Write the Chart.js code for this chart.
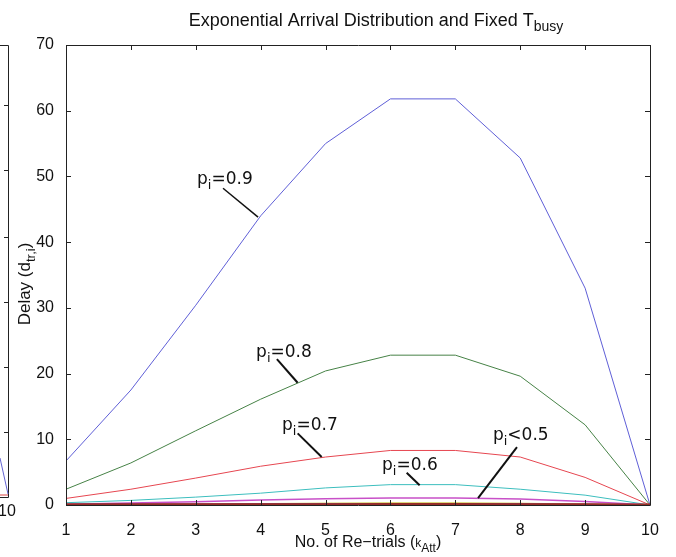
<!DOCTYPE html>
<html>
<head>
<meta charset="utf-8">
<script src="https://cdn.jsdelivr.net/npm/chart.js@4.4.1/dist/chart.umd.min.js"></script>
<style>
  html, body { margin: 0; padding: 0; background: #fff; }
  #wrap { width: 676px; height: 557px; position: relative; }
</style>
</head>
<body>
<div id="wrap"><canvas id="delayChart" width="676" height="557"></canvas></div>
<script>
const retrials = [1, 2, 3, 4, 5, 6, 7, 8, 9, 10];
const xTicks = [1, 2, 3, 4, 5, 6, 7, 8, 9, 10];
const yTicks = [0, 10, 20, 30, 40, 50, 60, 70];

const p09 = [6.7, 17.5, 30.4, 44.0, 55.0, 61.8, 61.8, 52.8, 33.0, 0];
const p08 = [2.4, 6.4, 11.3, 16.1, 20.4, 22.8, 22.8, 19.6, 12.2, 0];
const p07 = [1.0, 2.4, 4.1, 5.9, 7.3, 8.3, 8.3, 7.3, 4.2, 0];
const p06 = [0.35, 0.7, 1.2, 1.8, 2.6, 3.1, 3.1, 2.4, 1.5, 0];
const p05 = [0.1, 0.3, 0.5, 0.75, 0.95, 1.05, 1.05, 0.9, 0.55, 0];
const p04 = [0.03, 0.08, 0.15, 0.22, 0.28, 0.32, 0.32, 0.27, 0.15, 0];
const p03 = [0.05, 0.1, 0.12, 0.14, 0.15, 0.16, 0.16, 0.14, 0.08, 0];
const p02 = [0.02, 0.03, 0.04, 0.05, 0.05, 0.06, 0.06, 0.05, 0.03, 0];

// label text, position of text (data coords), leader line from -> to (data coords)
const labelNames = ["=0.9", "=0.8", "=0.7", "=0.6", "<0.5"];
const labelAt = [[3.02, 48.9], [3.93, 22.5], [4.33, 11.4], [5.87, 5.3], [7.58, 9.9]];
const leaderFrom = [[3.42, 48.2], [4.25, 22.2], [4.57, 10.9], [6.25, 4.9], [7.95, 8.8]];
const leaderTo = [[3.96, 43.8], [4.57, 18.6], [4.94, 7.3], [6.45, 3.0], [7.35, 1.05]];

function pts(vals) {
  return vals.map((v, i) => ({ x: retrials[i], y: v }));
}

function line(vals, color, w) {
  return {
    data: pts(vals),
    borderColor: color,
    borderWidth: w,
    pointRadius: 0,
    tension: 0,
    fill: false,
  };
}

const FONT = "'Liberation Sans', Arial, sans-serif";
const LABEL_FONT = "'DejaVu Sans', sans-serif";

// draws text pieces: [text, kind] kind 0 normal, 1 subscript, 2 small on baseline
function drawParts(ctx, parts, x, y, size, align, family) {
  const fam = family || FONT;
  const subSize = Math.round(size * 0.75);
  let total = 0;
  parts.forEach((p) => {
    ctx.font = (p[1] ? subSize : size) + "px " + fam;
    total += ctx.measureText(p[0]).width;
  });
  let cx = x;
  if (align === "center") cx = x - total / 2;
  ctx.textAlign = "left";
  ctx.textBaseline = "alphabetic";
  parts.forEach((p) => {
    ctx.font = (p[1] ? subSize : size) + "px " + fam;
    ctx.fillText(p[0], cx, p[1] === 1 ? y + size * 0.3 : y);
    cx += ctx.measureText(p[0]).width;
  });
}

const extras = {
  id: "extras",
  afterDatasetsDraw(chart) {
    const ctx = chart.ctx;
    const xs = chart.scales.x;
    const ys = chart.scales.y;
    const a = chart.chartArea;
    ctx.save();

    // box and inward ticks
    ctx.strokeStyle = "#222";
    ctx.lineWidth = 1;
    ctx.beginPath();
    ctx.rect(Math.round(a.left) + 0.5, Math.round(a.top) + 0.5,
      Math.round(a.right - a.left), Math.round(a.bottom - a.top));
    xTicks.forEach((t) => {
      const px = Math.round(xs.getPixelForValue(t)) + 0.5;
      ctx.moveTo(px, a.bottom); ctx.lineTo(px, a.bottom - 5);
      ctx.moveTo(px, a.top); ctx.lineTo(px, a.top + 5);
    });
    yTicks.forEach((t) => {
      const py = Math.round(ys.getPixelForValue(t)) + 0.5;
      ctx.moveTo(a.left, py); ctx.lineTo(a.left + 5, py);
      ctx.moveTo(a.right, py); ctx.lineTo(a.right - 5, py);
    });
    ctx.stroke();

    // annotations
    ctx.fillStyle = "#111";
    ctx.strokeStyle = "#111";
    labelNames.forEach((name, i) => {
      const tx = xs.getPixelForValue(labelAt[i][0]);
      const ty = ys.getPixelForValue(labelAt[i][1]);
      drawParts(ctx, [["p", 0], ["i", 1], [name, 0]], tx, ty, 17, "left", LABEL_FONT);
      ctx.lineWidth = i === 0 ? 1.5 : 2;
      ctx.beginPath();
      ctx.moveTo(xs.getPixelForValue(leaderFrom[i][0]), ys.getPixelForValue(leaderFrom[i][1]));
      ctx.lineTo(xs.getPixelForValue(leaderTo[i][0]), ys.getPixelForValue(leaderTo[i][1]));
      ctx.stroke();
    });

    // title and axis titles
    ctx.fillStyle = "#111";
    drawParts(ctx, [["Exponential Arrival Distribution and Fixed T", 0], ["busy", 1]],
      (a.left + a.right) / 2 + 18, 26, 18, "center");
    drawParts(ctx, [["No. of Re\u2212trials (", 0], ["k", 2], ["Att", 1], [")", 0]],
      (a.left + a.right) / 2 + 10, 547, 16, "center");
    ctx.save();
    ctx.translate(30, (a.top + a.bottom) / 2 + 9);
    ctx.rotate(-Math.PI / 2);
    drawParts(ctx, [["Delay (d", 0], ["tr,i", 1], [")", 0]], 0, 0, 17, "center");
    ctx.restore();

    // edge of the neighbouring panel, cut off at the left
    ctx.strokeStyle = "#222";
    ctx.lineWidth = 1;
    ctx.beginPath();
    ctx.moveTo(0, a.top + 0.5); ctx.lineTo(8.5, a.top + 0.5);
    ctx.lineTo(8.5, 497.5); ctx.lineTo(0, 497.5);
    [105, 170, 237, 302, 367, 432].forEach((y) => {
      ctx.moveTo(8.5, y + 0.5); ctx.lineTo(4, y + 0.5);
    });
    ctx.stroke();
    ctx.strokeStyle = "rgb(100,100,210)";
    ctx.beginPath();
    ctx.moveTo(0, 458); ctx.lineTo(8, 494);
    ctx.stroke();
    ctx.strokeStyle = "rgb(220,70,70)";
    ctx.beginPath();
    ctx.moveTo(0, 495); ctx.lineTo(8, 495);
    ctx.stroke();
    ctx.fillStyle = "#111";
    ctx.font = "16px " + FONT;
    ctx.textAlign = "center";
    ctx.textBaseline = "middle";
    ctx.fillText("10", 7, 512);
    ctx.restore();
  },
};

new Chart(document.getElementById("delayChart"), {
  type: "line",
  data: {
    datasets: [
      line(p02, "rgb(150,45,40)", 3),
      line(p03, "rgb(120,30,150)", 1.5),
      line(p04, "rgb(200,190,40)", 1),
      line(p05, "rgb(200,80,200)", 1.5),
      line(p06, "rgb(60,190,190)", 1),
      line(p07, "rgb(230,70,80)", 1),
      line(p08, "rgb(70,130,70)", 1),
      line(p09, "rgb(95,95,215)", 1),
    ],
  },
  options: {
    responsive: false,
    animation: false,
    layout: { padding: { left: 0, right: 26, top: 45, bottom: 0 } },
    plugins: { legend: { display: false }, tooltip: { enabled: false } },
    scales: {
      x: {
        type: "linear",
        min: 1,
        max: 10,
        afterBuildTicks: (s) => { s.ticks = xTicks.map((v) => ({ value: v })); },
        afterFit: (s) => { s.height = 52; },
        grid: { display: false },
        border: { display: false },
        ticks: { color: "#111", font: { family: FONT, size: 16 }, padding: 8 },
      },
      y: {
        min: 0,
        max: 70,
        afterBuildTicks: (s) => { s.ticks = yTicks.map((v) => ({ value: v })); },
        afterFit: (s) => { s.width = 66; },
        grid: { display: false },
        border: { display: false },
        ticks: { color: "#111", font: { family: FONT, size: 16 }, padding: 4 },
      },
    },
  },
  plugins: [extras],
});
</script>
</body>
</html>
